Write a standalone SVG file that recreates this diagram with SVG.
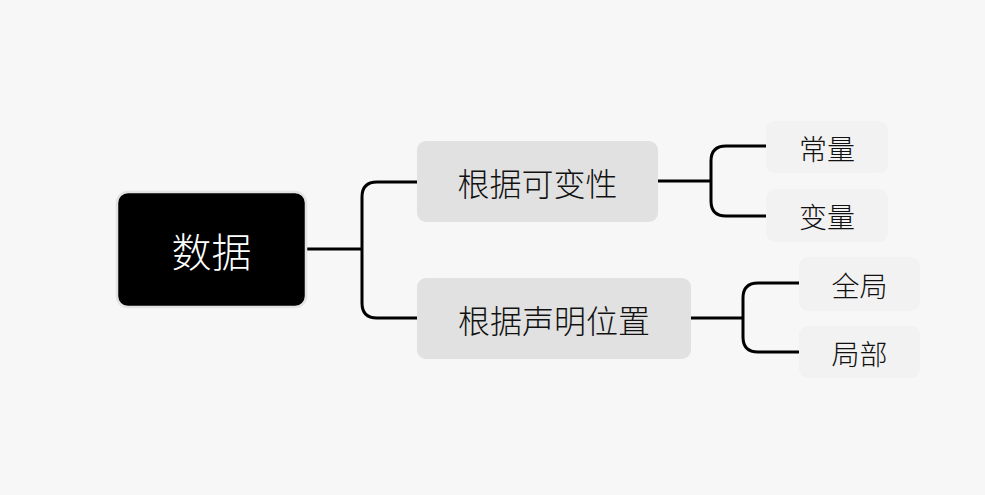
<svg xmlns="http://www.w3.org/2000/svg" width="985" height="495" viewBox="0 0 985 495">
<style>
text{font-family:"Noto Sans CJK SC","Noto Sans",sans-serif;text-anchor:middle;dominant-baseline:central;font-weight:300}
.c{fill:none;stroke:#000;stroke-width:3}
.b rect{fill:#e1e1e1}
.l rect{fill:#f2f2f2}
.b text{font-size:32px;fill:#111}
.l text{font-size:28px;fill:#111}
</style>
<rect width="985" height="495" fill="#f7f7f7"/>
<g id="connectors">
<path class="c" d="M306 249H362M417 182H377Q362 182 362 197V303Q362 318 377 318H417"/>
<path class="c" d="M658 181H711M766 146H726Q711 146 711 161V201Q711 216 726 216H766"/>
<path class="c" d="M691 318H743M799 283H758Q743 283 743 298V337Q743 352 758 352H799"/>
</g>
<g id="root">
<rect x="117" y="192" width="189" height="115" rx="11" fill="#000" stroke="#e3e3e3" stroke-width="2.5"/>
<text x="211.5" y="250" font-size="40" fill="#fff">数据</text>
</g>
<g id="n1" class="b">
<rect x="417" y="141" width="241" height="81" rx="9"/>
<text x="537.5" y="182">根据可变性</text>
</g>
<g id="n2" class="b">
<rect x="417" y="278" width="274" height="81" rx="9"/>
<text x="554" y="319">根据声明位置</text>
</g>
<g id="n11" class="l">
<rect x="766" y="121" width="122" height="52" rx="9"/>
<text x="827" y="148">常量</text>
</g>
<g id="n12" class="l">
<rect x="766" y="189" width="122" height="53" rx="9"/>
<text x="827" y="216">变量</text>
</g>
<g id="n21" class="l">
<rect x="799" y="257" width="121" height="54" rx="9"/>
<text x="859.5" y="285">全局</text>
</g>
<g id="n22" class="l">
<rect x="799" y="326" width="121" height="52" rx="9"/>
<text x="859.5" y="353">局部</text>
</g>
</svg>
